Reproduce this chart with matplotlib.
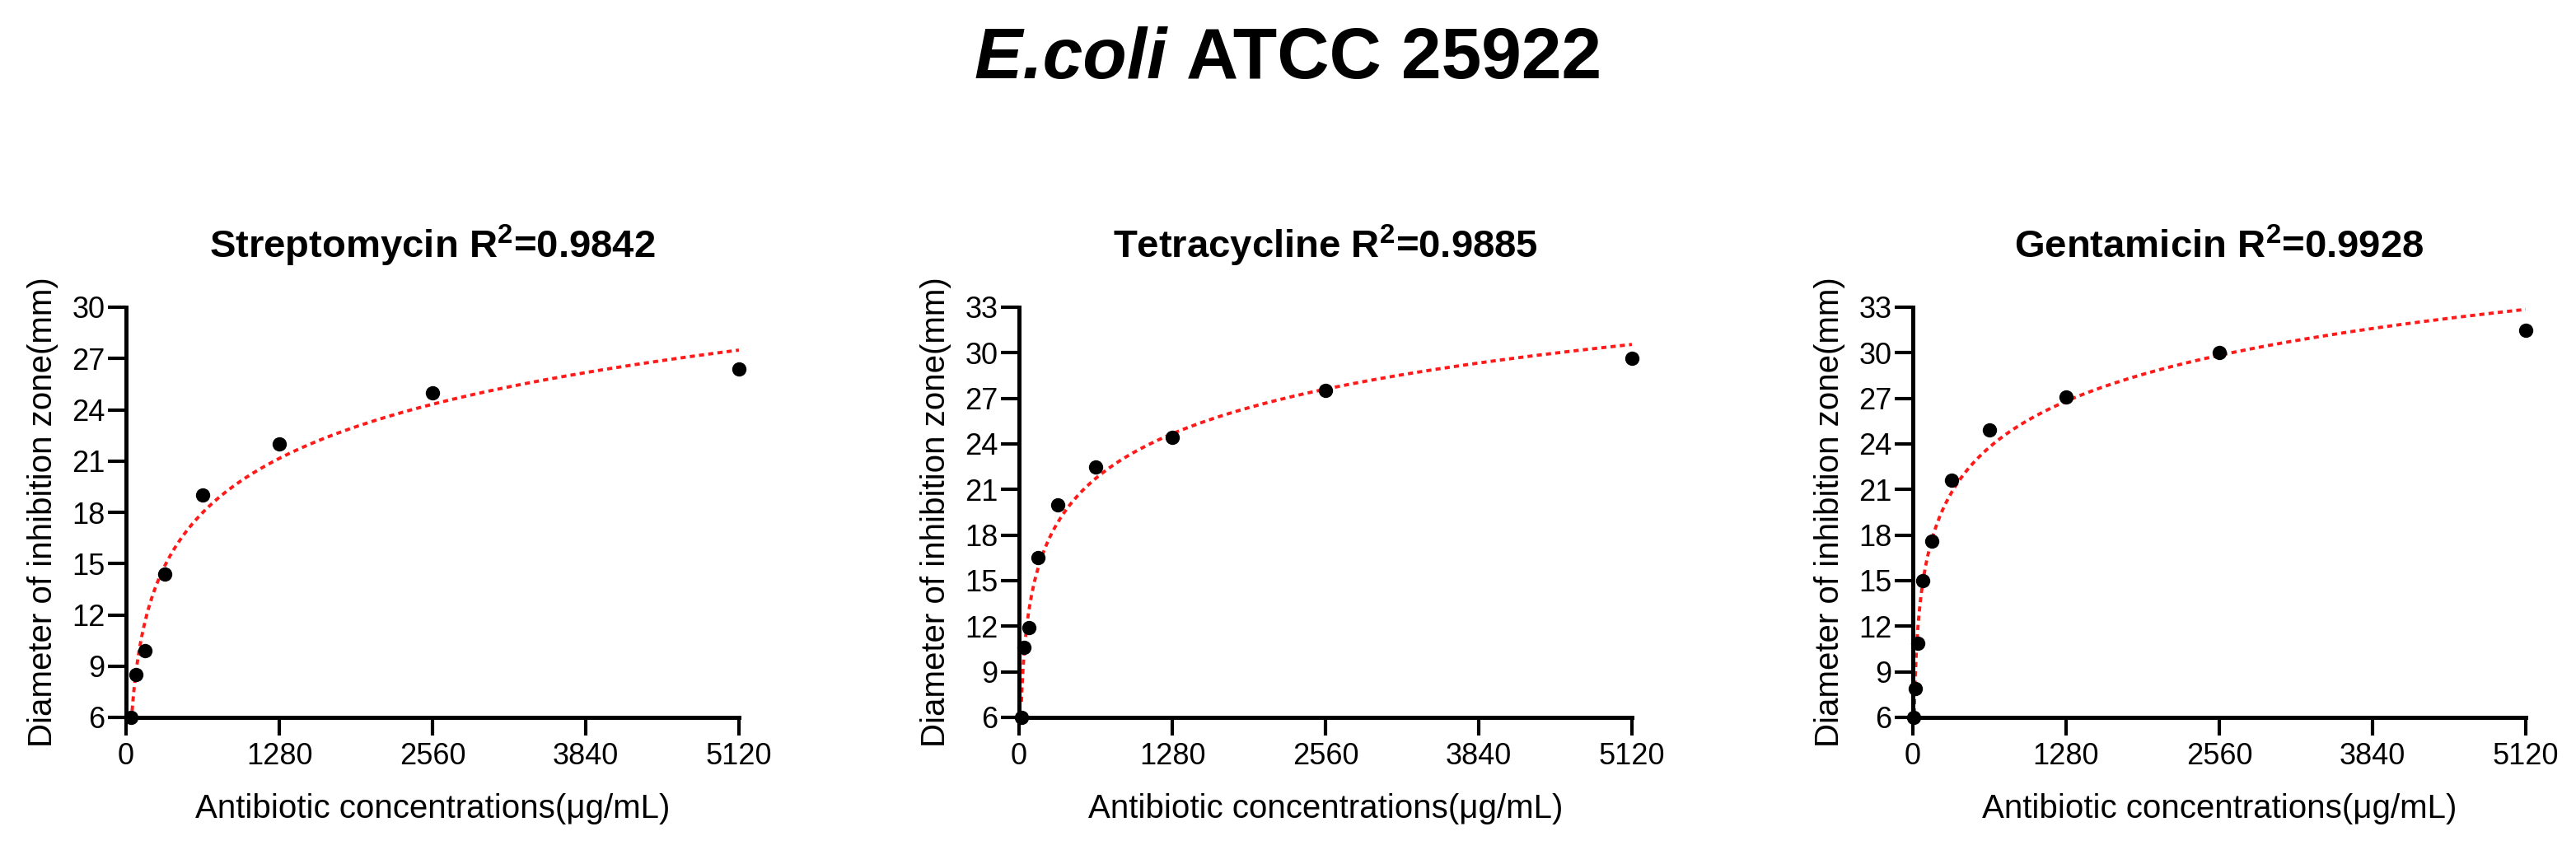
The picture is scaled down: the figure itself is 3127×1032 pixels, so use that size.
import numpy as np
import matplotlib
matplotlib.use("Agg")
import matplotlib.pyplot as plt

plt.rcParams['font.family'] = ['Liberation Sans', 'DejaVu Sans']
plt.rcParams['mathtext.fontset'] = 'custom'
plt.rcParams['mathtext.rm'] = 'Liberation Sans'
plt.rcParams['mathtext.bf'] = 'Liberation Sans:bold'
plt.rcParams['mathtext.it'] = 'Liberation Sans:italic'

# ---- data ----
strep_conc = [40, 80, 160, 320, 640, 1280, 2560, 5120]
strep_zone = [6.0, 8.5, 9.9, 14.4, 19.0, 22.0, 25.0, 26.4]

tetra_conc = [20, 40, 80, 160, 320, 640, 1280, 2560, 5120]
tetra_zone = [6.0, 10.6, 11.9, 16.5, 20.0, 22.5, 24.45, 27.5, 29.65]

genta_conc = [10, 20, 40, 80, 160, 320, 640, 1280, 2560, 5120]
genta_zone = [6.0, 7.9, 10.9, 15.0, 17.6, 21.6, 24.9, 27.1, 30.0, 31.5]

names = ["Streptomycin", "Tetracycline", "Gentamicin"]
r2_values = ["0.9842", "0.9885", "0.9928"]
y_max = [30, 33, 33]
x_ticks = [0, 1280, 2560, 3840, 5120]

series = [(strep_conc, strep_zone), (tetra_conc, tetra_zone), (genta_conc, genta_zone)]

W, H = 3127, 1032
fig = plt.figure(figsize=(W / 100, H / 100), dpi=100)

lefts_px = [153, 1237, 2322]
ax_w_px = 744
top_px, bot_px = 373, 871

for i, (conc, zone) in enumerate(series):
    l = lefts_px[i] / W
    b = 1 - bot_px / H
    ax = fig.add_axes([l, b, ax_w_px / W, (bot_px - top_px) / H])
    x = np.array(conc, dtype=float)
    y = np.array(zone, dtype=float)
    # semilog (logarithmic) regression fit as in the source
    slope, intercept = np.polyfit(np.log(x), y, 1)
    xf = np.linspace(x.min(), x.max(), 2000)
    yf = intercept + slope * np.log(xf)
    ax.plot(xf, yf, color='#ff1a1a', lw=2.8, linestyle=(0, (1.6, 1.3)), zorder=2)
    ax.plot(x, y, 'o', color='black', ms=11.5, clip_on=False, zorder=3)

    ax.set_xlim(0, 5120)
    ax.set_ylim(6, y_max[i])
    ax.set_xticks(x_ticks)
    ax.set_yticks(np.arange(6, y_max[i] + 1, 3))
    for s in ['top', 'right']:
        ax.spines[s].set_visible(False)
    for s in ['left', 'bottom']:
        ax.spines[s].set_linewidth(3.6)
    ax.tick_params(axis='both', direction='out', length=15.5, width=3.0,
                   labelsize=26, colors='black')
    ax.tick_params(axis='y', pad=3)
    ax.tick_params(axis='x', pad=6)

    ax.set_xlabel("Antibiotic concentrations(μg/mL)", fontsize=29)
    ax.xaxis.set_label_coords(0.5, (bot_px - 982) / (bot_px - top_px))
    ax.xaxis.label.set_va('center')
    ax.set_ylabel("Diameter of inhibition zone(mm)", fontsize=29)
    ax.yaxis.set_label_coords(-101 / ax_w_px, 0.5)
    ax.yaxis.label.set_va('center')
    ax.yaxis.label.set_ha('center')

    ax.text(0.5, 1 + (top_px - 313) / (bot_px - top_px),
            names[i] + r" R$^{\mathbf{2}}$=" + r2_values[i],
            transform=ax.transAxes, ha='center', va='baseline',
            fontsize=34, fontweight='bold')

# suptitle: italic "E.coli" followed by bold "ATCC 25922"
sup_y = 1 - 95 / H
t1 = fig.text(0, sup_y, "E.coli ", ha='left', va='baseline', fontsize=63,
              fontweight='bold', fontstyle='italic')
t2 = fig.text(0, sup_y, "ATCC 25922", ha='left', va='baseline', fontsize=63,
              fontweight='bold')
renderer = fig.canvas.get_renderer()
w1 = t1.get_window_extent(renderer).width / W
w2 = t2.get_window_extent(renderer).width / W
x0 = 0.5 - (w1 + w2) / 2
t1.set_x(x0)
t2.set_x(x0 + w1)

fig.savefig("out.png", dpi=100, facecolor='white')
